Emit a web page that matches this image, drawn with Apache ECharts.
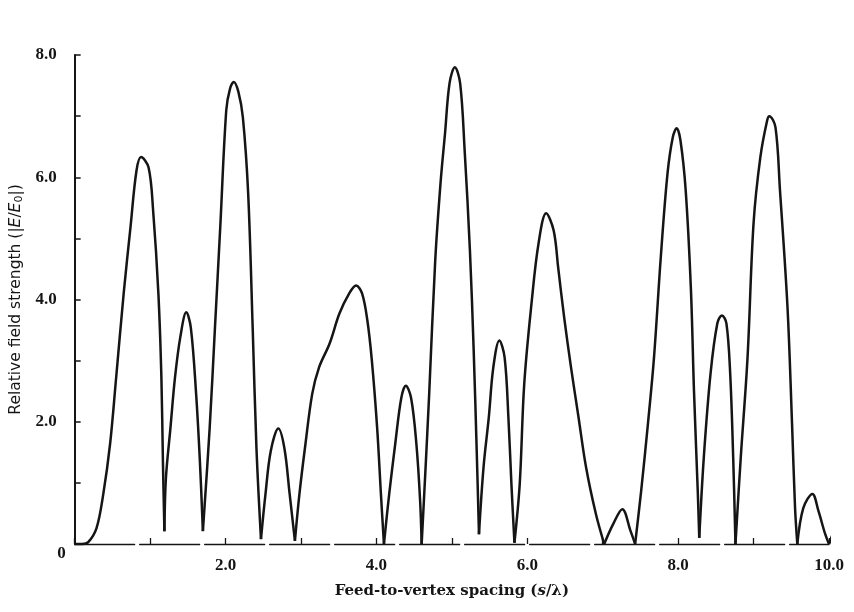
<!DOCTYPE html>
<html>
<head>
<meta charset="utf-8">
<script src="https://cdn.jsdelivr.net/npm/echarts@6/dist/echarts.min.js"></script>
<style>
  html, body { margin: 0; padding: 0; background: #ffffff; }
  #chart { width: 854px; height: 612px; }
</style>
</head>
<body>
<div id="chart"></div>
<script>
// Feed-to-vertex spacing s/λ
const spacing = [
  0.00, 0.10, 0.18, 0.29, 0.38, 0.47, 0.55, 0.65, 0.74, 0.82, 0.88, 0.98, 1.04, 1.11, 1.15, 1.17, 1.19,
  1.21, 1.27, 1.33, 1.40, 1.48, 1.54, 1.61, 1.66, 1.70,
  1.79, 1.86, 1.93, 2.01, 2.06, 2.11, 2.17, 2.23, 2.30, 2.36, 2.41, 2.47,
  2.53, 2.60, 2.70, 2.78, 2.85, 2.92,
  2.98, 3.06, 3.15, 3.24, 3.38, 3.51, 3.64, 3.73, 3.81, 3.88, 3.94, 4.01, 4.06, 4.10,
  4.17, 4.25, 4.33, 4.39, 4.46, 4.53, 4.58, 4.60,
  4.65, 4.70, 4.78, 4.85, 4.91, 4.97, 5.04, 5.11, 5.17, 5.24, 5.29, 5.33, 5.36,
  5.42, 5.49, 5.55, 5.63, 5.70, 5.75, 5.79, 5.83,
  5.90, 5.96, 6.06, 6.15, 6.25, 6.35, 6.41, 6.49, 6.58, 6.68, 6.78, 6.91, 7.02,
  7.14, 7.26, 7.37, 7.43,
  7.51, 7.60, 7.68, 7.77, 7.86, 7.93, 7.98, 8.03, 8.10, 8.17, 8.21, 8.26, 8.28,
  8.34, 8.43, 8.52, 8.58, 8.64, 8.69, 8.73, 8.76,
  8.83, 8.92, 9.00, 9.09, 9.18, 9.21, 9.29, 9.35, 9.45, 9.51, 9.55, 9.58,
  9.66, 9.78, 9.86, 9.95, 10.00, 10.10
];

// Relative field strength |E/E0|
const fieldStrength = [
  0.00, 0.00, 0.03, 0.26, 0.82, 1.64, 2.72, 4.10, 5.18, 6.11, 6.33, 6.16, 5.46, 4.10, 2.72, 1.36, 0.21,
  1.08, 1.90, 2.72, 3.38, 3.79, 3.54, 2.46, 1.36, 0.21,
  1.90, 3.54, 5.18, 7.10, 7.45, 7.56, 7.40, 6.98, 5.74, 3.54, 1.57, 0.08,
  0.82, 1.52, 1.89, 1.57, 0.82, 0.05,
  0.82, 1.64, 2.46, 2.89, 3.28, 3.77, 4.10, 4.23, 4.10, 3.66, 3.00, 1.90, 0.82, 0.00,
  0.82, 1.64, 2.39, 2.59, 2.39, 1.64, 0.70, 0.00,
  1.20, 2.46, 4.64, 5.90, 6.72, 7.54, 7.80, 7.54, 6.44, 4.80, 3.16, 1.52, 0.16,
  1.25, 2.07, 2.89, 3.33, 3.05, 2.07, 0.98, 0.02,
  0.98, 2.62, 3.98, 4.92, 5.41, 5.13, 4.52, 3.70, 2.89, 2.07, 1.25, 0.49, 0.00,
  0.33, 0.57, 0.21, 0.00,
  0.87, 1.97, 3.05, 4.69, 6.07, 6.66, 6.80, 6.61, 5.79, 4.15, 2.51, 0.87, 0.10,
  1.41, 2.79, 3.61, 3.74, 3.61, 2.79, 1.41, 0.00,
  1.41, 3.05, 5.25, 6.33, 6.93, 7.00, 6.82, 5.79, 3.87, 1.97, 0.59, 0.00,
  0.59, 0.82, 0.54, 0.16, 0.00, 0.33
];

// Axis tick labels
const xTickLabels = { 0: '0', 2: '2.0', 4: '4.0', 6: '6.0', 8: '8.0', 10: '10.0' };
const yTickLabels = { 0: '0', 2: '2.0', 4: '4.0', 6: '6.0', 8: '8.0' };

// Split the pattern into lobes at its nulls so each null stays a sharp notch
const lobes = [];
let current = [[spacing[0], fieldStrength[0]]];
for (let i = 1; i < spacing.length; i++) {
  const pt = [spacing[i], fieldStrength[i]];
  current.push(pt);
  const isNull = i < spacing.length - 1 &&
    fieldStrength[i] < fieldStrength[i - 1] && fieldStrength[i] < fieldStrength[i + 1];
  if (isNull) {
    lobes.push(current);
    current = [pt];
  }
}
lobes.push(current);

const ink = '#151515';
const serif = '"Liberation Serif", "DejaVu Serif", serif';

const chart = echarts.init(document.getElementById('chart'), null, { renderer: 'canvas' });
chart.setOption({
  backgroundColor: '#ffffff',
  animation: false,
  grid: { left: 73, right: 25, top: 55, bottom: 68, containLabel: false },
  xAxis: {
    type: 'value',
    min: 0, max: 10, interval: 1,
    name: 'Feed-to-vertex spacing ({i|s}/λ)',
    nameLocation: 'middle',
    nameGap: 40,
    nameTextStyle: {
      fontFamily: '"DejaVu Serif", serif', fontSize: 15, fontWeight: 'bold', color: ink,
      rich: { i: { fontFamily: '"DejaVu Serif", serif', fontStyle: 'italic', fontWeight: 'bold', fontSize: 15, color: ink } }
    },
    axisLine: { show: true, onZero: false, lineStyle: { color: ink, width: 1.3, type: [60, 5] } },
    axisTick: { show: true, inside: true, length: 6, lineStyle: { color: ink, width: 1.3 } },
    splitLine: { show: false },
    axisLabel: {
      margin: 13,
      fontFamily: serif, fontSize: 17, fontWeight: 'bold', color: ink,
      formatter: v => (v !== 0 && xTickLabels[v]) ? xTickLabels[v] : ''
    }
  },
  yAxis: {
    type: 'value',
    min: 0, max: 8, interval: 1,
    name: 'Relative field strength (|{i|E}/{i|E}{sub|0}|)',
    nameLocation: 'middle',
    nameGap: 49,
    nameTextStyle: {
      fontFamily: '"DejaVu Sans", sans-serif', fontSize: 15.5, color: ink,
      rich: {
        i: { fontFamily: '"DejaVu Sans", sans-serif', fontStyle: 'italic', fontSize: 15.5, color: ink },
        sub: { fontFamily: '"DejaVu Sans", sans-serif', fontSize: 11, color: ink, verticalAlign: 'bottom', lineHeight: 17 }
      }
    },
    axisLine: { show: true, lineStyle: { color: ink, width: 2 } },
    axisTick: { show: true, inside: true, length: 6, lineStyle: { color: ink, width: 1.5 } },
    splitLine: { show: false },
    axisLabel: {
      margin: 9,
      fontFamily: serif, fontSize: 17, fontWeight: 'bold', color: ink,
      formatter: v => {
        if (v === 0) return '{o|0}';
        return yTickLabels[v] ? '{n|' + yTickLabels[v] + '}' : '';
      },
      rich: {
        n: { fontFamily: serif, fontSize: 17, fontWeight: 'bold', color: ink, padding: [0, 9, 0, 0] },
        o: { fontFamily: serif, fontSize: 17, fontWeight: 'bold', color: ink, padding: [20, 0, 0, 0] }
      }
    }
  },
  series: lobes.map(pts => ({
    type: 'line',
    data: pts,
    smooth: 0.35,
    showSymbol: false,
    clip: false,
    silent: true,
    lineStyle: { color: ink, width: 2.5 }
  }))
});
</script>
</body>
</html>
